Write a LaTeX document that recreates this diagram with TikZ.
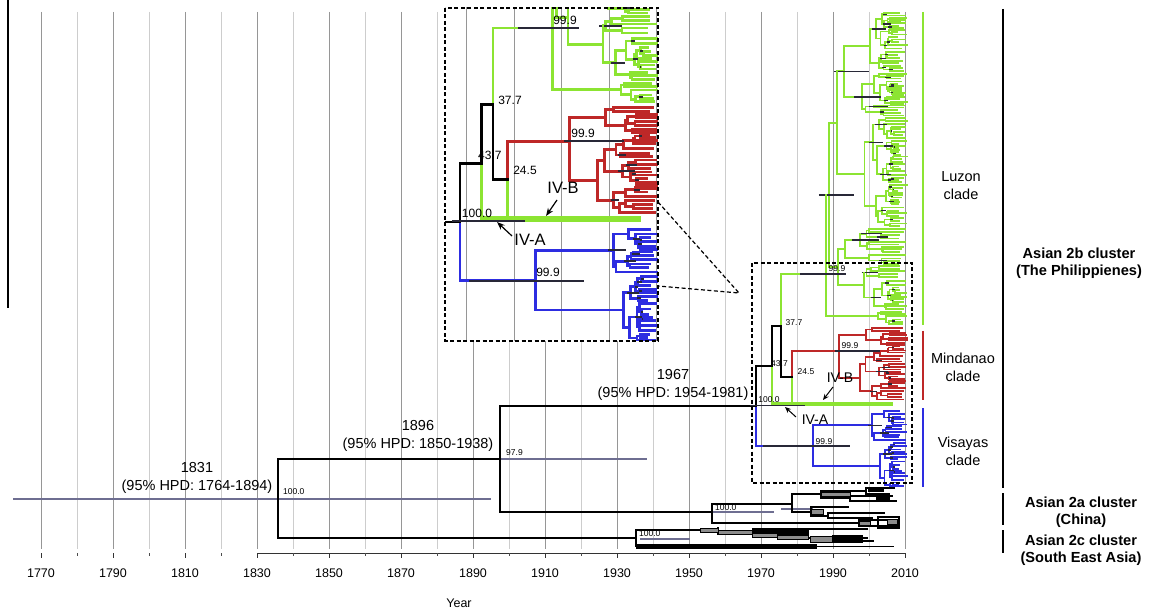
\documentclass[tikz,border=0pt]{standalone}
\usepackage{fontspec}
\setmainfont{Liberation Sans}
\usetikzlibrary{arrows.meta}
\definecolor{lg}{RGB}{140,228,50}
\definecolor{rd}{RGB}{190,40,40}
\definecolor{bl}{RGB}{45,45,225}
\definecolor{hp}{RGB}{40,40,55}
\definecolor{hpl}{RGB}{110,110,145}
\definecolor{gmaj}{RGB}{150,150,150}
\definecolor{gmin}{RGB}{205,205,205}
\definecolor{gbx}{RGB}{140,140,140}
\def\tipx{897}
\def\tipvar{10}
\def\tipgap{4}
% random subtree: #1 parent x, #2 node x, #3 ytop, #4 ybot ; returns \retY
\newcommand\rclade[4]{%
 \begingroup
 \pgfmathsetmacro\rcH{#4-(#3)}%
 \ifdim\rcH pt<\tipgap pt\relax
   \pgfmathsetmacro\rcY{(#3+#4)/2}%
   \pgfmathsetmacro\rcXe{\tipx+\tipvar*rnd}%
   \draw[br] (#1,\rcY) -- (\rcXe,\rcY);%
   \xdef\retY{\rcY}%
 \else
   \pgfmathsetmacro\rcS{#3+(0.2+0.6*rnd)*\rcH}%
   \pgfmathsetmacro\rcXa{#2+(\tipx-#2)*(0.06+0.45*rnd)}%
   \pgfmathsetmacro\rcXb{#2+(\tipx-#2)*(0.06+0.45*rnd)}%
   \edef\rcNext{\noexpand\rclade{#2}{\rcXa}{#3}{\rcS}}\rcNext
   \let\rcYa\retY
   \edef\rcNext{\noexpand\rclade{#2}{\rcXb}{\rcS}{#4}}\rcNext
   \let\rcYb\retY
   \pgfmathsetmacro\rcY{(\rcYa+\rcYb)/2}%
   \draw[br] (#2,\rcYa) -- (#2,\rcYb);%
   \draw[br] (#1,\rcY) -- (#2,\rcY);%
   \pgfmathsetmacro\rcP{rnd}%
   \ifdim\rcP pt<0.35pt
     \pgfmathsetmacro\rcW{(\tipx-#2)*(0.15+0.45*rnd)}%
     \draw[hpd] ({#2-0.4*\rcW},\rcY) -- ({#2+\rcW},\rcY);%
   \fi
   \xdef\retY{\rcY}%
 \fi
 \endgroup
}
% clade with forced root y: #1 parent x, #2 x, #3 y, #4 ytop, #5 ybot, #6 split fraction, #7 #8 child x
\newcommand\fclade[8]{%
 \begingroup
 \pgfmathsetmacro\rcS{#4+#6*(#5-(#4))}%
 \edef\rcNext{\noexpand\rclade{#2}{#7}{#4}{\rcS}}\rcNext
 \let\rcYa\retY
 \edef\rcNext{\noexpand\rclade{#2}{#8}{\rcS}{#5}}\rcNext
 \let\rcYb\retY
 \pgfmathsetmacro\rcYmin{min(\rcYa,#3)}%
 \pgfmathsetmacro\rcYmax{max(\rcYb,#3)}%
 \draw[br] (#2,\rcYmin) -- (#2,\rcYmax);%
 \draw[br] (#1,#3) -- (#2,#3);%
 \endgroup
}
\newcommand\Rsub{%
 \begin{scope}[br/.append style={draw=lg}]\pgfmathsetseed{7}\fclade{781}{826}{274}{12}{326}{0.95}{829}{878}\end{scope}
 \begin{scope}[br/.append style={draw=rd}]\pgfmathsetseed{3}\fclade{792}{839}{351}{327}{401}{0.25}{866}{860}\end{scope}
 \begin{scope}[br/.append style={draw=bl}]\pgfmathsetseed{5}\fclade{756}{813}{446}{409}{487}{0.42}{872}{880}\end{scope}
 \draw[br,draw=lg] (781,326) -- (781,274);
 \draw[br,draw=lg] (772,366) -- (772,404);
 \draw[br,draw=lg] (792,377) -- (792,404);
 \draw[br,draw=rd] (792,377) -- (792,351);
 \draw[br,draw=bl] (756,406) -- (756,446);
 \draw[br,draw=black] (700,406) -- (756,406) -- (756,366) -- (772,366) -- (772,326) -- (781,326) -- (781,377) -- (792,377);
 \draw[ivbar] (772,404) -- (893,404);
 \draw[hpd] (800,274) -- (846,274);
 \draw[hpd] (835,351) -- (880,351);
 \draw[hpd] (763,446) -- (850,446);
 \draw[hpd] (750,405.5) -- (805,405.5);
}
\begin{document}
\begin{tikzpicture}[x=1pt,y=-1pt,
 mbr/.style={draw=black,line width=1.8pt,line cap=rect},
 hpdl/.style={draw=hpl,line width=1.1pt},
 gb/.style={fill=gbx,draw=black,line width=0.9pt},
 lab/.style={font=\fontsize{14.5}{18.5}\selectfont,align=center,inner sep=0pt},
 small/.style={font=\fontsize{8.5}{10}\selectfont,inner sep=0pt},
 ins/.style={font=\fontsize{12}{14}\selectfont,inner sep=0pt},
 ivl/.style={font=\fontsize{14}{16}\selectfont,inner sep=0pt},
 ivli/.style={font=\fontsize{16.5}{18}\selectfont,inner sep=0pt},
 ylab/.style={font=\fontsize{12.5}{15}\selectfont,inner sep=0pt},
 clab/.style={font=\fontsize{14.5}{18}\selectfont,align=center,inner sep=0pt},
 blab/.style={font=\bfseries\fontsize{14.6}{17.5}\selectfont,align=center,inner sep=0pt},
 arr/.style={-{Stealth[length=6pt,width=5pt]},line width=1pt},
 dbox/.style={draw=black,line width=1.2pt,dash pattern=on 4pt off 2.5pt}]
\useasboundingbox (0,0) rectangle (1149,612);
\fill[white] (0,0) rectangle (1149,612);
% grid
\foreach \yr in {1780,1800,...,2000} \draw[gmin,line width=1pt] ({41+(\yr-1770)*3.6},12) -- ({41+(\yr-1770)*3.6},549);
\foreach \yr in {1770,1790,...,2010} \draw[gmaj,line width=1pt] ({41+(\yr-1770)*3.6},12) -- ({41+(\yr-1770)*3.6},549);
% axis
\draw[line width=1pt,black!80] (257,553) -- (905,553);
\foreach \yr in {1770,1790,...,2010} {
  \draw[line width=1pt,black!80] ({41+(\yr-1770)*3.6},553) -- ({41+(\yr-1770)*3.6},558);
  \node[ylab] (y\yr) at ({41+(\yr-1770)*3.6},573) {\yr};
}
\foreach \yr in {1780,1800,...,2000} \draw[line width=0.8pt,black!70] ({41+(\yr-1770)*3.6},553) -- ({41+(\yr-1770)*3.6},556);
\node[ylab] (year) at (459,603) {Year};
\draw[line width=1.5pt] (8,0) -- (8,308);
% backbone
\draw[hpdl] (13,499) -- (491,499);
\draw[hpdl] (501,459) -- (647,459);
\draw[mbr] (278,459) -- (500,459) (500,406) -- (500,512) (278,459) -- (278,538) -- (636,538) (500,406) -- (756,406) (500,512) -- (712,512);
% main R subtree
\begin{scope}[br/.style={line width=1.8pt,line cap=rect}, hpd/.style={draw=hp,line width=1.5pt}, ivbar/.style={draw=lg,line width=3.8pt}]
 \Rsub
\end{scope}
% Asian 2a
\draw[hpdl] (712,512) -- (774,512);
\draw[hpdl] (781,509) -- (813,509);
\draw[mbr,line width=1.4pt] (712,504) -- (712,523) (712,504) -- (792,504) (792,494) -- (792,512)
  (792,494) -- (821,494) (821,491) -- (821,498) (821,491) -- (866,491) (821,498) -- (850,498)
  (850,496) -- (850,501) (850,496) -- (892,496) (850,501) -- (896,501)
  (866,488) -- (866,494) (866,488) -- (894,488) (866,494) -- (889,494)
  (792,512) -- (811,512) (811,507) -- (811,516) (811,507) -- (848,507) (811,516) -- (828,516)
  (828,513) -- (828,518) (828,513) -- (884,513) (828,518) -- (872,518)
  (712,523) -- (859,523) (859,520) -- (859,526) (859,520) -- (899,520) (859,526) -- (899,526)
  (878,517) rectangle (899,528);
\filldraw[gb] (821,492.5) rectangle (850,496.5);
\filldraw[gb] (811,509) rectangle (823,514);
\filldraw[gb] (859,521) rectangle (870,525);
\filldraw[gb] (887,519) rectangle (897,524);
\fill (868,487) rectangle (884,492);
\fill (876,497) rectangle (890,502);
% Asian 2c
\draw[hpdl] (640,539) -- (690,539);
\draw[mbr,line width=1.4pt] (636,530) -- (636,546) (636,530) -- (718,530) (718,528) -- (718,534)
  (809,529) -- (867,529) (817,546.5) -- (893,546.5) (832,541) -- (873,541) (808,538) -- (867,538);
\fill (636,544) rectangle (817,549);
\filldraw[gb] (700,528) rectangle (718,532);
\filldraw[gb] (718,530.5) rectangle (752,534);
\fill (752,528) rectangle (809,535);
\filldraw[gb] (752,533) rectangle (777,537);
\filldraw[gb] (777,535) rectangle (808,539);
\filldraw[gb] (810,536) rectangle (832,542);
\fill (832,535) rectangle (863,543);
% small labels
\node[small,anchor=west] (s1) at (283,492) {100.0};
\node[small,anchor=west] (s2) at (506,453) {97.9};
\node[small,anchor=west] (s3) at (715,508) {100.0};
\node[small,anchor=west] (s4) at (639,534) {100.0};
\node[small] (m1) at (837,269) {99.9};
\node[small] (m2) at (794,323) {37.7};
\node[small,anchor=west] (m3) at (771,364) {43.7};
\node[small] (m4) at (806,372) {24.5};
\node[small] (m5) at (850,346) {99.9};
\node[small] (m6) at (769,400) {100.0};
\node[small] (m7) at (824,442) {99.9};
\node[ivl] (mivb) at (840,378) {IV-B};
\node[ivl] (miva) at (815,420) {IV-A};
\draw[arr] (833,387) -- (823,400);
\draw[arr] (796,417) -- (785,407);
% date labels
\node[lab] (d1831) at (197,478) {1831\\(95\% HPD: 1764-1894)};
\node[lab] (d1896) at (418,436) {1896\\(95\% HPD: 1850-1938)};
\node[lab] (d1967) at (673,385) {1967\\(95\% HPD: 1954-1981)};
% main dashed box
\draw[dbox] (752,263) rectangle (912,483);
% inset
\fill[white] (445,8) rectangle (658,341);
\begin{scope}
 \clip (445,8) rectangle (658,341);
 \begin{scope}[shift={(-537.92,-374.82)}, xscale=1.32, yscale=1.47,
   br/.style={line width=2.8pt,line cap=rect}, hpd/.style={draw=hp,line width=2pt}, ivbar/.style={draw=lg,line width=6.5pt}]
   \foreach \gx in {761,797,833,869,905} \draw[gmaj,line width=1pt] (\gx,250) -- (\gx,490);
   \Rsub
 \end{scope}
\end{scope}
\draw[dbox] (445,8) rectangle (658,341);
\node[ins] (i1) at (565,20) {99.9};
\node[ins] (i2) at (510,100) {37.7};
\node[ins,anchor=west] (i3) at (478,155) {43.7};
\node[ins] (i4) at (525,170) {24.5};
\node[ins] (i5) at (583,133) {99.9};
\node[ins] (i6) at (477,213) {100.0};
\node[ins] (i7) at (548,272) {99.9};
\node[ivli] (iivb) at (563,188) {IV-B};
\node[ivli] (iiva) at (530,240) {IV-A};
\draw[arr,-{Stealth[length=8pt,width=6pt]},line width=1.2pt] (557,200) -- (546,216);
\draw[arr,-{Stealth[length=8pt,width=6pt]},line width=1.2pt] (512,236) -- (497,222);
% connectors
\coordinate (cv) at (739,293);
\draw[dbox] (658,202) -- (cv) -- (658,286);
% right-hand bars and labels
\draw[lg,line width=1.5pt] (923,12) -- (923,325);
\draw[rd,line width=1.5pt] (923,331) -- (923,400);
\draw[bl,line width=1.5pt] (923,408) -- (923,487);
\draw[black,line width=1.8pt] (1003,9) -- (1003,488) (1003,493) -- (1003,525) (1003,530) -- (1003,553);
\node[clab] (luz) at (961,186) {Luzon\\clade};
\node[clab] (min) at (963,367) {Mindanao\\clade};
\node[clab] (vis) at (963,451) {Visayas\\clade};
\node[blab] (a2b) at (1079,263) {Asian 2b cluster\\(The Philippienes)};
\node[blab] (a2a) at (1081,512) {Asian 2a cluster\\(China)};
\node[blab] (a2c) at (1081,550) {Asian 2c cluster\\(South East Asia)};
\end{tikzpicture}
\end{document}
